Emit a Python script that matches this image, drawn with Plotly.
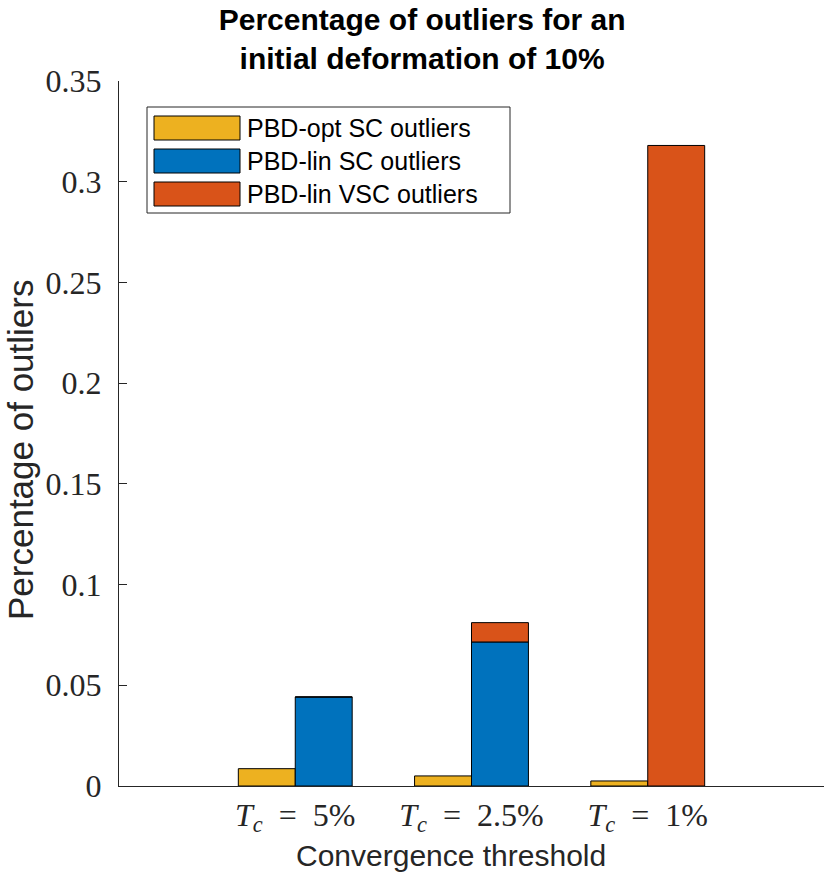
import plotly.graph_objects as go

# convergence thresholds (x categories)
eq = '\u2002=\u2002'
thresholds = [f'<i>T</i><sub><i>c</i></sub>{eq}5%',
              f'<i>T</i><sub><i>c</i></sub>{eq}2.5%',
              f'<i>T</i><sub><i>c</i></sub>{eq}1%']

# fraction of outliers per method
pbd_opt_sc = [0.0086, 0.0050, 0.0025]
pbd_lin_sc = [0.0442, 0.0715, 0.0]
pbd_lin_vsc = [0.0, 0.0096, 0.318]   # stacked on top of pbd_lin_sc

y_ticks = [0, 0.05, 0.1, 0.15, 0.2, 0.25, 0.3, 0.35]
y_ticktext = ['0', '0.05', '0.1', '0.15', '0.2', '0.25', '0.3', '0.35']

W, H = 831, 884
L, R, T, B = 119, 7, 81, 98
PW, PH = W - L - R, H - T - B


def px(x):
    return (x - L) / PW


def py(y):
    return (H - B - y) / PH


sans = 'Liberation Sans, Arial'
serif = 'Liberation Serif, Times New Roman'
edge = dict(color='#000000', width=1)

fig = go.Figure()
fig.add_trace(go.Bar(x=thresholds, y=pbd_opt_sc, name='PBD-opt SC outliers',
                     offsetgroup='opt', marker=dict(color='#EDB120', line=edge)))
fig.add_trace(go.Bar(x=thresholds, y=pbd_lin_sc, name='PBD-lin SC outliers',
                     offsetgroup='lin', marker=dict(color='#0072BD', line=edge)))
fig.add_trace(go.Bar(x=thresholds, y=pbd_lin_vsc, base=pbd_lin_sc, name='PBD-lin VSC outliers',
                     offsetgroup='lin', marker=dict(color='#D95319', line=edge)))

# MATLAB-style legend box with wide swatches
shapes = [dict(type='rect', xref='paper', yref='paper',
               x0=px(147), x1=px(510), y0=py(213), y1=py(107),
               line=dict(color='#262626', width=1), fillcolor='white', layer='above')]
annotations = []
row_tops = [116, 149, 182]
for tr, top in zip(fig.data, row_tops):
    shapes.append(dict(type='rect', xref='paper', yref='paper',
                       x0=px(154), x1=px(240), y0=py(top + 24), y1=py(top),
                       line=dict(color='#000000', width=1), fillcolor=tr.marker.color,
                       layer='above'))
    annotations.append(dict(text=tr.name, xref='paper', yref='paper',
                            x=px(245), y=py(top + 12), xanchor='left', yanchor='middle',
                            showarrow=False, font=dict(family=sans, size=25, color='#000000')))

# axis titles placed like the original
annotations.append(dict(text='Convergence threshold', xref='paper', yref='paper',
                        x=px(451), y=py(855), xanchor='center', yanchor='middle',
                        showarrow=False, font=dict(family=sans, size=30, color='#262626')))
annotations.append(dict(text='Percentage of outliers', xref='paper', yref='paper',
                        x=px(20), y=py(450), xanchor='center', yanchor='middle', textangle=-90,
                        showarrow=False, font=dict(family=sans, size=35, color='#262626')))

fig.update_layout(
    width=W, height=H,
    barmode='group', bargap=0.354, bargroupgap=0,
    paper_bgcolor='white', plot_bgcolor='white',
    margin=dict(l=L, r=R, t=T, b=B, autoexpand=False),
    title=dict(text='Percentage of outliers for an<br>initial deformation of 10%',
               x=0.508, xanchor='center', xref='container',
               y=0.966, yanchor='middle', yref='container',
               font=dict(family=sans, size=30, color='#000000', weight='bold')),
    showlegend=False,
    shapes=shapes,
    annotations=annotations,
)

fig.update_xaxes(
    range=[-1, 3], showgrid=False, zeroline=False, automargin=False,
    showline=True, linecolor='#262626', linewidth=1.3, ticks='',
    tickfont=dict(family=serif, size=32, color='#262626'),
    ticklabelstandoff=0,
)
fig.update_yaxes(
    range=[0, 0.35], showgrid=False, zeroline=False, automargin=False,
    showline=True, linecolor='#262626', linewidth=1.3,
    ticks='inside', ticklen=8, tickcolor='#262626', tickwidth=1.3,
    tickvals=y_ticks, ticktext=y_ticktext,
    tickfont=dict(family=serif, size=32, color='#262626'),
    ticklabelstandoff=10,
)

fig.write_html("out.html", config={'displayModeBar': False},
               post_script="document.body.style.margin='0';")
